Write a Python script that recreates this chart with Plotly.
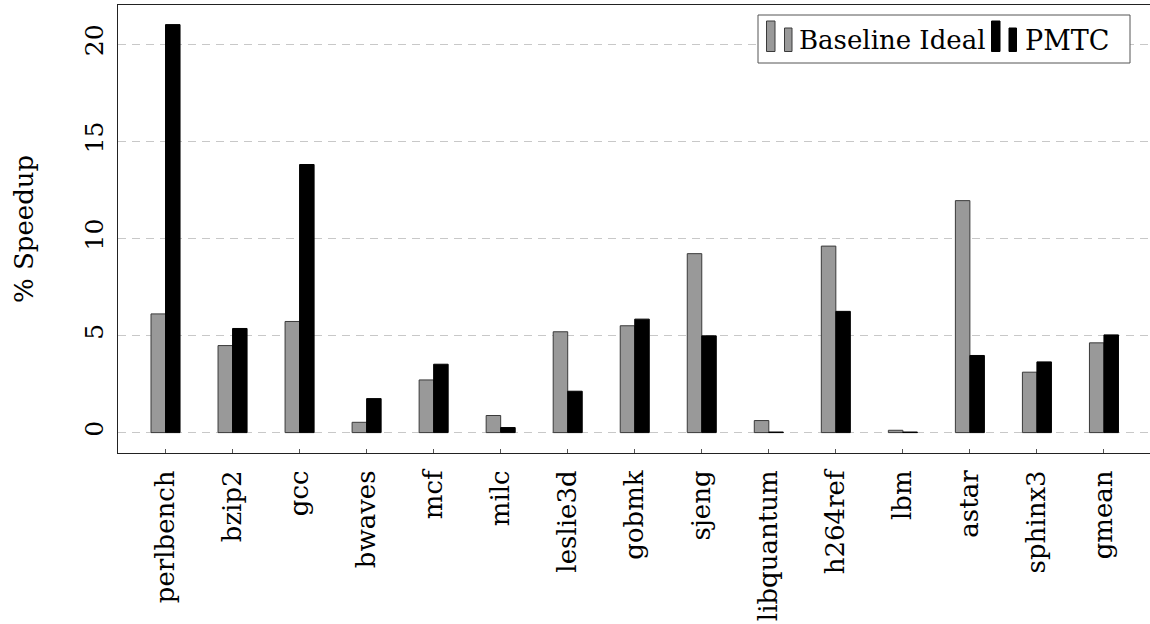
import plotly.graph_objects as go

# SPEC CPU2006 benchmarks and speedups (%)
categories = ["perlbench", "bzip2", "gcc", "bwaves", "mcf", "milc", "leslie3d",
              "gobmk", "sjeng", "libquantum", "h264ref", "lbm", "astar",
              "sphinx3", "gmean"]
baseline_ideal = [6.11, 4.48, 5.72, 0.53, 2.71, 0.88, 5.19, 5.50, 9.21, 0.62,
                  9.60, 0.12, 11.94, 3.11, 4.62]
pmtc = [21.0, 5.36, 13.8, 1.75, 3.52, 0.26, 2.13, 5.84, 4.98, 0.03, 6.24,
        0.03, 3.97, 3.64, 5.03]
y_ticks = [0, 5, 10, 15, 20]
series_names = ["Baseline Ideal", "PMTC"]

FONT = "DejaVu Serif"
GRAY = "#999999"
W, H = 1150, 624
ML, MR, MT, MB = 118, 0, 5, 171

fig = go.Figure()
fig.add_trace(go.Bar(x=categories, y=baseline_ideal, name=series_names[0],
                     marker=dict(color=GRAY, line=dict(color="#3a3a3a", width=1)),
                     showlegend=False))
fig.add_trace(go.Bar(x=categories, y=pmtc, name=series_names[1],
                     marker=dict(color="#000000", line=dict(color="#000000", width=1)),
                     showlegend=False))

# legend box drawn by hand (pgfplots-style double-bar glyphs)
pw, ph = W - ML - MR, H - MT - MB


def px(x):
    return (x - ML) / pw


def py(y):
    return (H - MB - y) / ph


shapes = [dict(type="rect", xref="paper", yref="paper",
               x0=px(758), x1=px(1130), y0=py(63), y1=py(15),
               line=dict(color="#555555", width=1), fillcolor="white", layer="above")]
glyphs = [(766.5, 784.5, GRAY, "#3a3a3a"), (991.5, 1009, "#000000", "#000000")]
for x0, x1, fill, edge in glyphs:
    shapes.append(dict(type="rect", xref="paper", yref="paper",
                       x0=px(x0), x1=px(x0 + 8.5), y0=py(51.5), y1=py(21),
                       fillcolor=fill, line=dict(color=edge, width=1), layer="above"))
    shapes.append(dict(type="rect", xref="paper", yref="paper",
                       x0=px(x1), x1=px(x1 + 7.5), y0=py(51.5), y1=py(28),
                       fillcolor=fill, line=dict(color=edge, width=1), layer="above"))

annotations = [
    dict(text=series_names[0], xref="paper", yref="paper", x=px(797), y=py(40),
         xanchor="left", yanchor="middle", showarrow=False,
         font=dict(family=FONT, size=26, color="black")),
    dict(text=series_names[1], xref="paper", yref="paper", x=px(1023), y=py(40),
         xanchor="left", yanchor="middle", showarrow=False,
         font=dict(family=FONT, size=27, color="black")),
    dict(text="% Speedup", xref="paper", yref="paper", x=0, y=0.5,
         xanchor="center", yanchor="middle", xshift=-(ML - 24), textangle=-90,
         showarrow=False, font=dict(family=FONT, size=26, color="black")),
]

fig.update_layout(
    width=W, height=H,
    margin=dict(l=ML, r=MR, t=MT, b=MB, pad=0),
    paper_bgcolor="white", plot_bgcolor="white",
    barmode="group", bargap=0.567, bargroupgap=0,
    font=dict(family=FONT, color="black"),
    shapes=shapes, annotations=annotations,
    showlegend=False,
)
fig.update_xaxes(
    type="category", range=[-0.709, 14.687],
    showline=True, linecolor="#222222", linewidth=1, mirror=True,
    ticks="inside", ticklen=4, tickcolor="#555555",
    tickangle=-90, tickfont=dict(family=FONT, size=26, color="black"),
    ticklabelstandoff=6, showgrid=False, zeroline=False,
)
fig.update_yaxes(
    range=[-1.05, 22.01], tickvals=y_ticks, ticktext=[str(v) for v in y_ticks],
    showline=True, linecolor="#222222", linewidth=1, mirror=False,
    ticks="", tickangle=-90, tickfont=dict(family=FONT, size=25, color="black"),
    ticklabelstandoff=4,
    showgrid=True, gridcolor="#c8c8c8", gridwidth=1, griddash="8px,6px",
    zeroline=False,
)

fig.write_html("out.html")
